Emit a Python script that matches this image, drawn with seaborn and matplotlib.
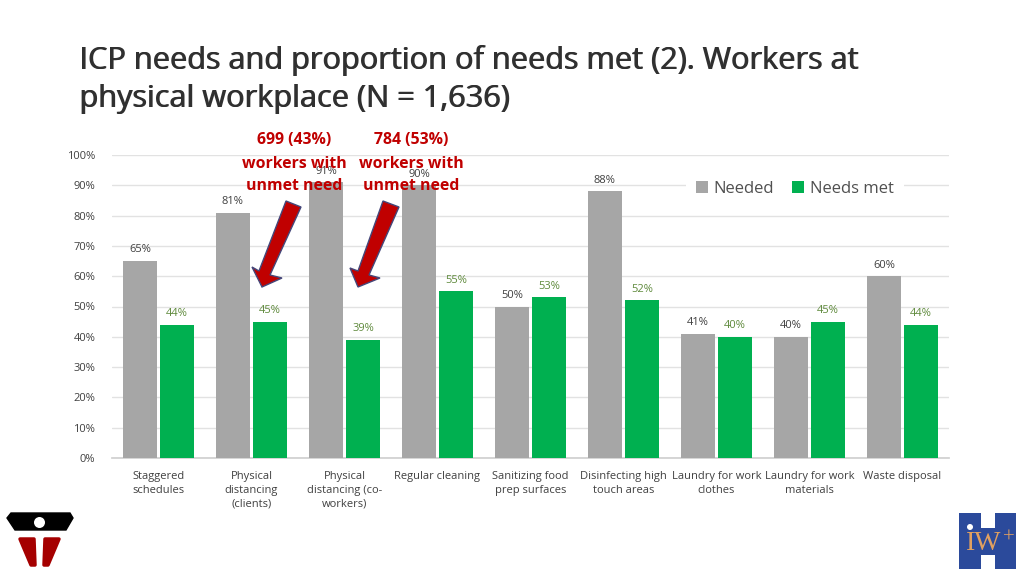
import matplotlib
matplotlib.use("Agg")
import matplotlib.pyplot as plt
import seaborn as sns
import pandas as pd
from matplotlib.patches import Polygon, Circle, Rectangle

categories = ["Staggered\nschedules", "Physical\ndistancing\n(clients)", "Physical\ndistancing (co-\nworkers)",
              "Regular cleaning", "Sanitizing food\nprep surfaces", "Disinfecting high\ntouch areas",
              "Laundry for work\nclothes", "Laundry for work\nmaterials", "Waste disposal"]
needed = [65, 81, 91, 90, 50, 88, 41, 40, 60]
needs_met = [44, 45, 39, 55, 53, 52, 40, 45, 44]
title = "ICP needs and proportion of needs met (2). Workers at\nphysical workplace (N = 1,636)"

GRAY, GREEN, RED = "#a6a6a6", "#00b050", "#c00000"
FONT = "Open Sans"

sns.set_theme(style="white")
plt.rcParams["font.family"] = [FONT, "DejaVu Sans"]

df = pd.DataFrame({"cat": categories * 2, "pct": needed + needs_met,
                   "series": ["Needed"] * 9 + ["Needs met"] * 9})

W, H = 1024, 576
fig = plt.figure(figsize=(W / 100, H / 100), dpi=100, facecolor="white")
ax = fig.add_axes([112 / W, (H - 458) / H, 837 / W, 303 / H])
sns.barplot(data=df, x="cat", y="pct", hue="series", order=categories, hue_order=["Needed", "Needs met"],
            palette=[GRAY, GREEN], width=0.8, gap=0.08, ax=ax, saturation=1, zorder=3, linewidth=0)
ax.set_ylim(0, 100)
ax.set_xlim(-0.5, 8.5)
ax.set_xlabel("")
ax.set_ylabel("")
ax.set_yticks(range(0, 101, 10))
ax.set_yticklabels([f"{v}%" for v in range(0, 101, 10)], fontsize=8, color="#404040")
ax.tick_params(axis="y", length=0, pad=12)
ax.tick_params(axis="x", length=0, pad=9)
for lab in ax.get_xticklabels():
    lab.set_fontsize(8)
    lab.set_color("#404040")
    lab.set_linespacing(1.4)
ax.yaxis.grid(True, color="#e2e2e2", lw=1)
ax.set_axisbelow(True)
for s in ["top", "right", "left"]:
    ax.spines[s].set_visible(False)
ax.spines["bottom"].set_color("#d0d0d0")

ax.bar_label(ax.containers[0], labels=[f"{v}%" for v in needed], padding=4, fontsize=8, color="#404040")
ax.bar_label(ax.containers[1], labels=[f"{v}%" for v in needs_met], padding=4, fontsize=8, color="#5f8a3c")

leg = ax.legend(loc="upper left", bbox_to_anchor=((686 - 112) / 837, 1 - (170.5 - 155) / 303), ncol=2, frameon=True,
                framealpha=1, facecolor="white", edgecolor="none", fontsize=12, handlelength=0.7,
                handleheight=0.7, columnspacing=1.1, handletextpad=0.35, borderpad=0.6, borderaxespad=0,
                labelcolor="#505050")
leg.set_zorder(5)

# Overlay in pixel coordinates for slide annotations and logos
ov = fig.add_axes([0, 0, 1, 1], facecolor="none")
ov.set_xlim(0, W)
ov.set_ylim(H, 0)
ov.axis("off")

for dx in (0, 0.8):
    ov.text(79 + dx, 60, title.split("\n")[0], fontsize=22.1, color="#303030", va="center", ha="left")
    ov.text(79 + dx, 99, title.split("\n")[1], fontsize=22.1, color="#303030", va="center", ha="left")

for cx, txt in [(294, "699 (43%)\nworkers with\nunmet need"), (411, "784 (53%)\nworkers with\nunmet need")]:
    for i, line in enumerate(txt.split("\n")):
        ov.text(cx, 140.5 + 23 * i, line, fontsize=11.4, fontweight="bold", color=RED, ha="center", va="center")

arrows = [
    [(286, 201), (301, 207), (270, 275), (282, 278), (262, 287), (252, 267), (259, 271)],
    [(383, 201), (399, 207), (369, 275), (380, 278), (358, 287), (350, 268), (358, 271)],
]
for pts in arrows:
    ov.add_patch(Polygon(pts, closed=True, fc=RED, ec="#44477a", lw=1))

# Left logo
ov.add_patch(Polygon([(11, 513), (70, 513), (73, 518), (66, 530), (15, 530), (7, 518)], closed=True, fc="black", ec="black", lw=1))
ov.add_patch(Circle((39.5, 522.5), 5.5, fc="white", ec="none"))
ov.add_patch(Polygon([(20, 539), (34, 539), (35, 565), (31, 565)], closed=True, fc="#a50000", ec="#a50000", lw=2.5, joinstyle="round"))
ov.add_patch(Polygon([(45, 539), (59, 539), (48, 565), (44, 565)], closed=True, fc="#a50000", ec="#a50000", lw=2.5, joinstyle="round"))

# Right logo
BLUE, ORANGE = "#2b4a9b", "#e0a060"
ov.add_patch(Rectangle((959, 513), 22, 56, fc=BLUE, ec="none"))
ov.add_patch(Rectangle((995, 513), 21, 56, fc=BLUE, ec="none"))
ov.add_patch(Rectangle((980, 528), 16, 27, fc=BLUE, ec="none"))
ov.add_patch(Circle((970, 527), 3, fc="white", ec="none"))
ov.text(984, 544, "IW", fontsize=20, family="Liberation Serif", color=ORANGE, ha="center", va="center")
ov.text(1009, 538, "+", fontsize=15, family="Liberation Serif", color=ORANGE, ha="center", va="center")

fig.savefig("out.png", dpi=100)
